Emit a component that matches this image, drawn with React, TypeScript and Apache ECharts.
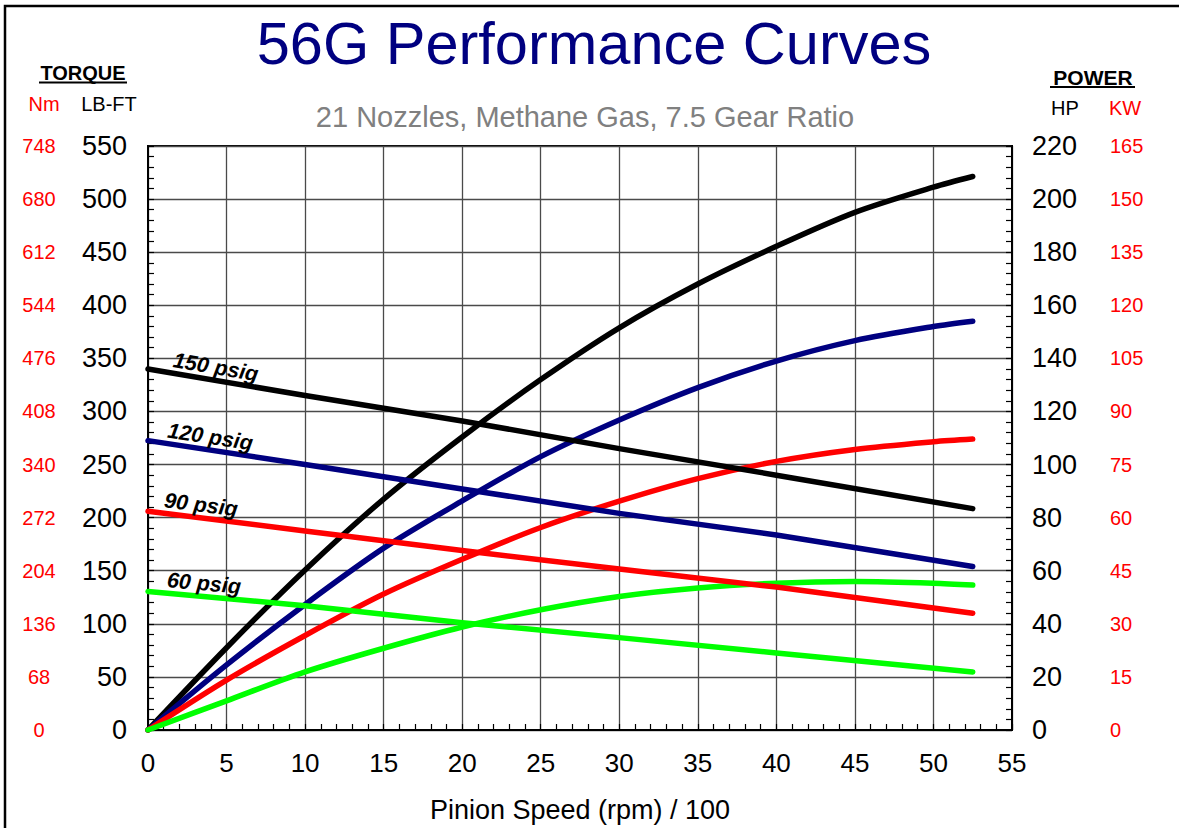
import React, { useEffect, useRef } from "react";
import * as echarts from "echarts";

// ---- data ----
const torqueX = [0, 10, 20, 30, 40, 52.5];
const torque150 = [340, 315, 291, 265, 240, 208.5];
const torque120 = [272.5, 250, 227, 204, 183.6, 154];
const torque90 = [206, 187.5, 169, 151.6, 134.6, 110];
const torque60 = [130.5, 117, 101, 87, 72.5, 54.7];

const powerX = [0, 5, 10, 15, 20, 25, 30, 35, 40, 45, 50, 52.5];
const power150 = [0, 31, 60.3, 87, 110.4, 132, 151.5, 168, 182.2, 195, 204.5, 208.5];
const power120 = [0, 24.5, 47.3, 68.5, 86.3, 103, 116.8, 129, 139, 146.7, 152, 154];
const power90 = [0, 18.8, 35.6, 51.2, 64.3, 76.3, 86.2, 94.7, 101.2, 105.7, 108.6, 109.6];
const power60 = [0, 11, 21.9, 30.8, 38.8, 45.3, 50.3, 53.5, 55.3, 55.9, 55.3, 54.6];

const pressureLabels = ["150 psig", "120 psig", "90 psig", "60 psig"];
const labelAtX = [1.5, 1.15, 0.95, 1.15];
const seriesColors = ["#000000", "#000080", "#ff0000", "#00ff00"];
const torqueSets = [torque150, torque120, torque90, torque60];
const powerSets = [power150, power120, power90, power60];

const FONT = '"Liberation Sans", Arial, Helvetica, sans-serif';

const pairs = (xs: number[], ys: number[]) => xs.map((x, i) => [x, ys[i]]);

export default function App() {
  const ref = useRef<HTMLDivElement>(null);

  useEffect(() => {
    document.body.style.margin = "0";
    if (!ref.current) return;
    const chart = echarts.init(ref.current, undefined, { renderer: "svg" });

    const series: any[] = [];
    powerSets.forEach((p, i) => {
      series.push({
        type: "line",
        name: pressureLabels[i] + " power",
        xAxisIndex: 0,
        yAxisIndex: 1,
        data: pairs(powerX, p),
        smooth: 0.3,
        showSymbol: false,
        symbol: "none",
        lineStyle: { color: seriesColors[i], width: 5.5, cap: "round", join: "round" },
        z: 3,
      });
    });
    torqueSets.forEach((t, i) => {
      series.push({
        type: "line",
        name: pressureLabels[i] + " torque",
        xAxisIndex: 0,
        yAxisIndex: 0,
        data: pairs(torqueX, t),
        smooth: false,
        showSymbol: false,
        symbol: "none",
        lineStyle: { color: seriesColors[i], width: 5.5, cap: "round", join: "round" },
        z: 3,
      });
    });

    const gridLine = { show: true, lineStyle: { color: "#4a4a4a", width: 1.3 } };
    const tickStyle = { color: "#000", width: 1.2 };

    chart.setOption({
      animation: false,
      backgroundColor: "#ffffff",
      grid: {
        left: 148,
        top: 146,
        width: 864,
        height: 587.5,
        show: true,
        borderColor: "#000",
        borderWidth: 2,
        backgroundColor: "transparent",
      },
      xAxis: {
        type: "value",
        min: 0,
        max: 55,
        interval: 5,
        name: "Pinion Speed (rpm) / 100",
        nameLocation: "middle",
        nameGap: 66,
        nameTextStyle: { fontFamily: FONT, fontSize: 27, color: "#000" },
        axisLine: { show: true, lineStyle: { color: "#000", width: 2 } },
        axisTick: { show: true, inside: true, length: 6, lineStyle: tickStyle },
        minorTick: { show: true, splitNumber: 5, length: 6, lineStyle: tickStyle },
        splitLine: gridLine,
        axisLabel: { fontFamily: FONT, fontSize: 26, color: "#000", margin: 20 },
      },
      yAxis: [
        {
          type: "value",
          position: "left",
          min: 0,
          max: 550,
          interval: 50,
          axisLine: { show: true, lineStyle: { color: "#000", width: 2 } },
          axisTick: { show: true, inside: true, length: 6, lineStyle: tickStyle },
          minorTick: { show: true, splitNumber: 5, length: 6, lineStyle: tickStyle },
          splitLine: gridLine,
          axisLabel: { fontFamily: FONT, fontSize: 27, color: "#000", margin: 21 },
        },
        {
          type: "value",
          position: "right",
          min: 0,
          max: 220,
          interval: 20,
          axisLine: { show: true, lineStyle: { color: "#000", width: 2 } },
          axisTick: { show: true, inside: true, length: 6, lineStyle: tickStyle },
          minorTick: { show: true, splitNumber: 5, length: 6, lineStyle: tickStyle },
          splitLine: { show: false },
          axisLabel: { fontFamily: FONT, fontSize: 27, color: "#000", margin: 20 },
        },
        {
          type: "value",
          position: "left",
          min: 0,
          max: 748,
          interval: 68,
          axisLine: { show: false },
          axisTick: { show: false },
          splitLine: { show: false },
          axisLabel: { fontFamily: FONT, fontSize: 20, color: "#ff0000", margin: 109, align: "center" },
        },
        {
          type: "value",
          position: "right",
          min: 0,
          max: 165,
          interval: 15,
          axisLine: { show: false },
          axisTick: { show: false },
          splitLine: { show: false },
          axisLabel: { fontFamily: FONT, fontSize: 20, color: "#ff0000", margin: 98, padding: [5, 0, 0, 0] },
        },
      ],
      series,
    });

    // pressure labels placed along torque lines via the chart's own scales
    const labelGraphics = torqueSets.map((t, i) => {
      const p0 = chart.convertToPixel({ xAxisIndex: 0, yAxisIndex: 0 }, [torqueX[0], t[0]]) as number[];
      const p1 = chart.convertToPixel({ xAxisIndex: 0, yAxisIndex: 0 }, [torqueX[1], t[1]]) as number[];
      const frac = (labelAtX[i] - torqueX[0]) / (torqueX[1] - torqueX[0]);
      const px = p0[0] + (p1[0] - p0[0]) * frac;
      const py = p0[1] + (p1[1] - p0[1]) * frac;
      const rot = -Math.atan2(p1[1] - p0[1], p1[0] - p0[0]);
      return {
        type: "text",
        x: px,
        y: py - 2,
        rotation: rot,
        z: 10,
        style: {
          text: pressureLabels[i],
          fontFamily: FONT,
          fontSize: 21.5,
          fontWeight: "bold",
          fontStyle: "italic",
          fill: "#000",
          align: "left",
          verticalAlign: "bottom",
        },
      };
    });

    chart.setOption({
      graphic: [
        {
          type: "rect",
          z: 0,
          shape: { x: 5, y: 6, width: 1300, height: 1000 },
          style: { fill: "none", stroke: "#000", lineWidth: 2.5 },
        },
        {
          type: "text",
          x: 594,
          y: 43,
          style: { text: "56G Performance Curves", fontFamily: FONT, fontSize: 59.5, fill: "#000080", align: "center", verticalAlign: "middle" },
        },
        {
          type: "text",
          x: 585,
          y: 117,
          style: { text: "21 Nozzles, Methane Gas, 7.5 Gear Ratio", fontFamily: FONT, fontSize: 29, fill: "#808080", align: "center", verticalAlign: "middle" },
        },
        {
          type: "text",
          x: 83,
          y: 73,
          style: { text: "TORQUE", fontFamily: FONT, fontSize: 20, fontWeight: "bold", fill: "#000", align: "center", verticalAlign: "middle" },
        },
        { type: "line", shape: { x1: 39, y1: 82.5, x2: 127, y2: 82.5 }, style: { stroke: "#000", lineWidth: 2 } },
        {
          type: "text",
          x: 44,
          y: 104,
          style: { text: "Nm", fontFamily: FONT, fontSize: 20, fill: "#ff0000", align: "center", verticalAlign: "middle" },
        },
        {
          type: "text",
          x: 109,
          y: 104,
          style: { text: "LB-FT", fontFamily: FONT, fontSize: 20, fill: "#000", align: "center", verticalAlign: "middle" },
        },
        {
          type: "text",
          x: 1093,
          y: 77,
          style: { text: "POWER", fontFamily: FONT, fontSize: 21, fontWeight: "bold", fill: "#000", align: "center", verticalAlign: "middle" },
        },
        { type: "line", shape: { x1: 1050, y1: 87, x2: 1135, y2: 87 }, style: { stroke: "#000", lineWidth: 2 } },
        {
          type: "text",
          x: 1065,
          y: 108,
          style: { text: "HP", fontFamily: FONT, fontSize: 20, fill: "#000", align: "center", verticalAlign: "middle" },
        },
        {
          type: "text",
          x: 1125,
          y: 108,
          style: { text: "KW", fontFamily: FONT, fontSize: 20, fill: "#ff0000", align: "center", verticalAlign: "middle" },
        },
        ...labelGraphics,
      ],
    });

    return () => chart.dispose();
  }, []);

  return <div ref={ref} style={{ width: 1179, height: 828 }} />;
}
